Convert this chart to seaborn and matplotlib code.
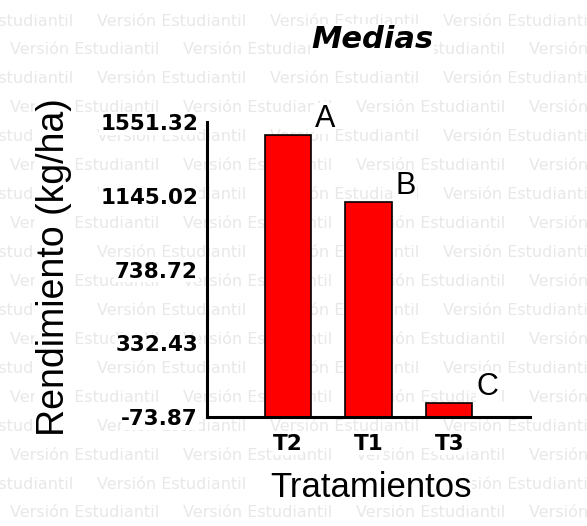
import matplotlib
matplotlib.use('Agg')
import matplotlib.pyplot as plt
import pandas as pd
import seaborn as sns

# datos
tratamientos = ['T2', 'T1', 'T3']
medias = [1480.0, 1110.0, 3.0]
letras = ['A', 'B', 'C']
yticks = [-73.87, 332.43, 738.72, 1145.02, 1551.32]
marca = 'Versión Estudiantil'

df = pd.DataFrame({'Tratamiento': tratamientos, 'Media': medias})

sns.set_style('white')
plt.rcParams['font.family'] = ['DejaVu Sans']
plt.rcParams['text.color'] = 'black'
plt.rcParams['xtick.color'] = 'black'
plt.rcParams['ytick.color'] = 'black'

W, H = 587, 526
fig = plt.figure(figsize=(W / 100, H / 100), dpi=100)
ax = fig.add_axes([207 / W, 1 - 417 / H, (530 - 207) / W, (417 - 122) / H])
ax.set_facecolor('none')

# marca de agua de fondo
for i in range(19):
    yy = 21 + 28.94 * i
    x0 = 10 if i % 2 else -76
    for k in range(5):
        fig.text((x0 + 173 * k) / W, 1 - yy / H, marca, fontsize=11.5,
                 color='#e8e8e8', ha='left', va='center', zorder=-1)

ancho = 0.57
sns.barplot(data=df, x='Tratamiento', y='Media', color='red', saturation=1,
            edgecolor='black', linewidth=1.2, width=ancho, ax=ax)

# las barras arrancan desde el piso del eje, no desde cero
base = yticks[0]
for p, v in zip(ax.patches, medias):
    p.set_y(base)
    p.set_height(v - base)

ax.set_xlim(-1, 3)
ax.set_ylim(yticks[0], yticks[-1])
ax.set_xticks([-1, 0, 1, 2, 3])
ax.set_xticklabels([''] + tratamientos + [''], fontweight='bold', fontsize=15.5)
ax.set_yticks(yticks)
ax.set_yticklabels(['%.2f' % v for v in yticks], fontweight='bold', fontsize=15.5)
ax.set_xlabel('')
ax.set_ylabel('')

for s in ['top', 'right']:
    ax.spines[s].set_visible(False)
for s in ['left', 'bottom']:
    ax.spines[s].set_linewidth(2.2)
    ax.spines[s].set_color('black')
ax.tick_params(axis='both', direction='out', length=5, width=2.2, color='black')
ax.tick_params(axis='x', pad=7.5)
ax.tick_params(axis='y', pad=1.5)
for lab in ax.get_xticklabels() + ax.get_yticklabels():
    lab.set_bbox(dict(facecolor='white', edgecolor='none', pad=0.5))

# letras de significancia
for i, (v, l) in enumerate(zip(medias, letras)):
    ax.annotate(l, xy=(i + ancho / 2, v), xytext=(3, 6),
                textcoords='offset points', ha='left', va='baseline',
                fontsize=22, family='Liberation Sans',
                bbox=dict(facecolor='white', edgecolor='none', pad=0.5))

fig.text(372 / W, 1 - 48 / H, 'Medias', fontsize=22, fontweight='bold',
         fontstyle='italic', ha='center', va='baseline',
         bbox=dict(facecolor='white', edgecolor='none', pad=0.5))
fig.text(54 / W, 1 - 267 / H, 'Rendimiento (kg/ha)', fontsize=27,
         family='Liberation Sans', rotation=90, ha='center', va='center',
         bbox=dict(facecolor='white', edgecolor='none', pad=0.5))
fig.text(371 / W, 1 - 497 / H, 'Tratamientos', fontsize=25,
         family='Liberation Sans', ha='center', va='baseline',
         bbox=dict(facecolor='white', edgecolor='none', pad=0.5))

fig.savefig('out.png', dpi=100)
